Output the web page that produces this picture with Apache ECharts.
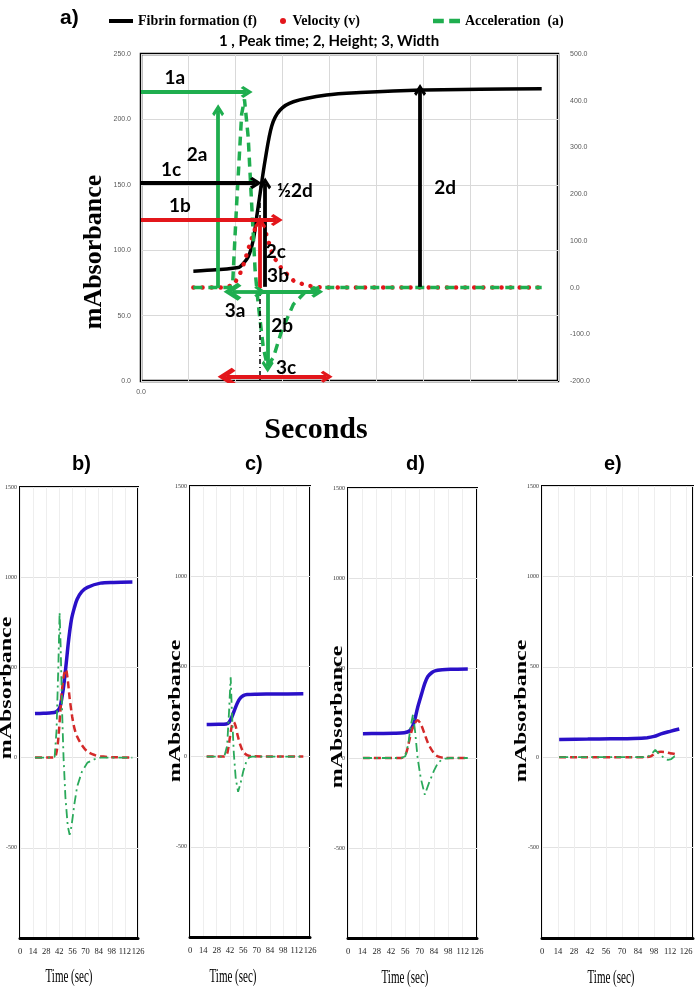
<!DOCTYPE html>
<html><head><meta charset="utf-8">
<script src="https://cdn.jsdelivr.net/npm/echarts@6/dist/echarts.min.js"></script>
<style>html,body{margin:0;padding:0;background:#fff}#c{width:696px;height:989px}</style>
</head><body><div id="c"></div>
<script>
// ---------- Panel a) data (x in seconds-like units, fibrin on left axis, velocity & acceleration on right axis)
const fibrinA = [[16.7,84],[24,85],[30.5,86.6],[31.6,87.4],[34.2,95],[35.8,107.8],[36.9,125.6],[38,143.5],[39.6,169],[41.7,195],[44.3,207],[48.6,213.5],[59.2,218.6],[69.9,220.5],[89.5,222.5],[108,223],[127.8,223.5]];
const velA = [[16.7,0],[26,0],[29.5,5],[31.6,30],[33,55],[34.8,95],[36.5,128],[38,145],[39.2,135],[40.1,110],[42.1,68],[44.9,40],[48.6,15],[52.9,4],[58,0],[127.8,0]];
const accA = [[16.7,0],[28,0],[29.2,4],[30.5,178],[32.1,371],[33,403],[34.2,321],[35.3,178],[36.4,36],[37.4,-36],[39,-128],[40.3,-168],[42.2,-150],[44.9,-92],[48.6,-36],[52.9,-6],[57,0],[127.8,0]];
const topLeftTicks = [0,50,100,150,200,250];
const topRightTicks = [-200,-100,0,100,200,300,400,500];

// annotation arrows in panel a) (data coordinates on left axis)
const greenArrows = [[[0,221],[33.7,221]],[[24.6,71],[24.6,207]],[[38.6,68.3],[56.2,68.3]],[[40.4,68.3],[40.4,11]]];
const blackArrows = [[[0,151.4],[36.6,151.4]],[[39.6,72],[39.6,151]],[[89,72],[89,222.5]]];
const redArrows = [[[0,123],[43.3,123]],[[38,71],[38,121]]];
const greenDoubleArrows = [[[29.2,68.3],[38,68.3]]];
const redDoubleArrows = [[[27.3,3.3],[59.2,3.3]]];
const peakGuide = [[[38,136],[38,-4]]];
const annotLabels = [
  {name:'1a', value:[10.8,231.6]},{name:'2a', value:[17.9,172.8]},{name:'1c', value:[9.6,161.7]},
  {name:'1b', value:[12.4,133.8]},{name:'½2d', value:[49.1,145]},{name:'2c', value:[43,98.6]},
  {name:'3b', value:[43.7,80]},{name:'3a', value:[30,53.5]},{name:'2b', value:[45,42]},
  {name:'3c', value:[46.3,10]},{name:'2d', value:[97,148]}
];

// ---------- Panels b) - e) data (Time (sec), mAbsorbance)
const bottomXTicks = [0,14,28,42,56,70,84,98,112,126];
const bottomYTicks = [-500,0,500,1000,1500];
const blueB = [[16,244],[25,246],[34,248],[38,252],[41,265],[43,285],[45,340],[46.6,395],[49,505],[52,655],[55,767],[58,830],[61,878],[66,920],[72,944],[86,967],[100,971],[120,973]];
const redB = [[16,0],[30,0],[37,2],[39,30],[41,110],[43,250],[45,380],[47,460],[49,489],[51,430],[53,330],[55.7,228],[58,165],[61,117],[66,70],[72,33],[80,14],[86,7],[100,2],[120,0]];
const greenB = [[16,0],[30,0],[37,5],[39,150],[41,520],[42.3,805],[43.5,600],[45,250],[46.5,0],[48.5,-220],[51,-380],[53,-428],[55,-380],[58,-260],[61,-161],[66,-80],[72,-28],[80,-8],[86,0],[120,0]];
const blueC = [[17.5,178],[30,179],[38,181],[41,190],[44,220],[47,262],[50,300],[53,325],[56,338],[60,344],[70,346],[90,347],[119,348]];
const redC = [[17.5,0],[34,0],[38,5],[40,40],[42,110],[44,170],[46,192],[48,168],[50,118],[53,62],[56,26],[60,8],[65,2],[119,0]];
const greenC = [[17.5,0],[36,0],[39,60],[41,250],[42.7,440],[44,250],[46,20],[48,-120],[50.5,-195],[53,-150],[56,-80],[59,-30],[62,-5],[65,0],[119,0]];
const blueD = [[14.6,135],[30,136],[45,137],[55,140],[60,150],[63,175],[65.4,216],[68,280],[72,358],[75,415],[78,453],[82,475],[85,484],[92,490],[100,493],[117,495]];
const redD = [[14.6,0],[50,0],[54,5],[57,30],[60,100],[62,147],[65,190],[68,210],[71,190],[75,131],[78,85],[82,42],[86,15],[90,5],[95,0],[117,0]];
const greenD = [[14.6,0],[52,0],[56,10],[59,80],[61,170],[63.5,242],[65.5,150],[68,0],[71,-110],[75,-204],[79,-140],[84,-70],[88,-26],[92,-8],[95,-3],[100,0],[117,0]];
const blueE = [[15,98],[40,100],[60,102],[80,104],[92,108],[98,115],[104,129],[112,143],[120,156]];
const redE = [[15,0],[90,0],[95,5],[100,25],[104,30],[108,28],[112,22],[116,18],[119,10]];
const greenE = [[15,0],[92,0],[96,20],[99,40],[102,20],[106,0],[110,-15],[113,-10],[116,5],[119,0]];

// ---------- build
const chart = echarts.init(document.getElementById('c'));
const chev = 'path://M0,11 L10,0 L20,11 L16.5,14 L10,7 L3.5,14 Z';
const dashIcon = 'path://M0,0 L10,0 L10,4 L0,4 Z M15,0 L25,0 L25,4 L15,4 Z';
const SERIF = 'Liberation Serif';
const GREEN = '#1fae4f', RED = '#e3161b';

const panels = [
  {blue:blueB, red:redB, green:greenB, grid:{left:20,top:487,width:118,height:451}, max:126},
  {blue:blueC, red:redC, green:greenC, grid:{left:190,top:486,width:120,height:451}, max:126},
  {blue:blueD, red:redD, green:greenD, grid:{left:348,top:488,width:129,height:450}, max:126},
  {blue:blueE, red:redE, green:greenE, grid:{left:542,top:486,width:151,height:452}, max:132}
];

const grids = [{left:141, top:54, width:417, height:327, show:true, borderColor:'#000', borderWidth:2.5, backgroundColor:'#fff'}];
const xAxes = [{gridIndex:0, type:'value', min:0, max:133, interval:15,
  axisLine:{show:false}, axisTick:{show:false},
  splitLine:{show:true, lineStyle:{color:'#d9d9d9', width:1}},
  axisLabel:{formatter:v=>v===0?'0.0':'', fontSize:7, color:'#595959', margin:8, fontFamily:'Liberation Sans'}}];
const yAxes = [
  {gridIndex:0, type:'value', min:0, max:250, interval:50, position:'left',
   axisLine:{show:false}, axisTick:{show:false}, splitLine:{show:true, lineStyle:{color:'#d9d9d9'}},
   axisLabel:{formatter:v=>topLeftTicks.includes(v)?v.toFixed(1):'', fontSize:7, color:'#595959', margin:10, fontFamily:'Liberation Sans'}},
  {gridIndex:0, type:'value', min:-200, max:500, interval:100, position:'right',
   axisLine:{show:false}, axisTick:{show:false}, splitLine:{show:false},
   axisLabel:{formatter:v=>topRightTicks.includes(v)?v.toFixed(1):'', fontSize:7, color:'#595959', margin:12, fontFamily:'Liberation Sans'}}
];

const series = [
  {name:'Fibrin formation (f)', type:'line', xAxisIndex:0, yAxisIndex:0, data:fibrinA, symbol:'none', smooth:0.3,
   lineStyle:{color:'#000', width:3.5}, itemStyle:{color:'#000'}, z:3},
  {name:'Velocity (v)', type:'line', xAxisIndex:0, yAxisIndex:1, data:velA, symbol:'none',
   lineStyle:{color:RED, width:4.5, type:[0.1,9], cap:'round'}, itemStyle:{color:RED}, z:3},
  {name:'Acceleration  (a)', type:'line', xAxisIndex:0, yAxisIndex:1, data:accA, symbol:'none',
   lineStyle:{color:GREEN, width:3.5, type:[9,6]}, itemStyle:{color:GREEN}, z:4}
];
function arrowSeries(list, color, symbols, dashed){
  return {type:'lines', coordinateSystem:'cartesian2d', xAxisIndex:0, yAxisIndex:0, silent:true, z:5,
    symbol:symbols, symbolSize:[18,12],
    lineStyle:{color:color, width:dashed?1.5:3.8, opacity:1, type:dashed?[5,3,1,3]:'solid'},
    data:list.map(c=>({coords:c}))};
}
series.push(arrowSeries(peakGuide, '#000', ['none','none'], true));
series.push(arrowSeries(greenArrows, GREEN, ['none',chev]));
series.push(arrowSeries(blackArrows, '#000', ['none',chev]));
series.push(arrowSeries(redArrows, RED, ['none',chev]));
series.push(arrowSeries(greenDoubleArrows, GREEN, [chev,chev]));
series.push(arrowSeries(redDoubleArrows, RED, [chev,chev]));
series.push({type:'scatter', xAxisIndex:0, yAxisIndex:0, symbolSize:1, silent:true, z:6,
  itemStyle:{color:'rgba(0,0,0,0)', opacity:1}, data:annotLabels,
  label:{show:true, position:'inside', formatter:'{b}', fontFamily:'Lato', fontWeight:'bold', fontSize:19, color:'#000', opacity:1, textBorderWidth:0}});

const graphics = [
  {type:'text', x:94, y:252, rotation:Math.PI/2, style:{text:'mAbsorbance', fontFamily:SERIF, fontWeight:'bold', fontSize:26, fill:'#000', align:'center', verticalAlign:'middle'}},
  {type:'text', x:316, y:430, style:{text:'Seconds', fontFamily:SERIF, fontWeight:'bold', fontSize:30, fill:'#000', align:'center', verticalAlign:'middle'}}
];
const yTitlePos = [[7,688],[176,711],[338,717],[522,711]];
const xTitlePos = [[69,977],[233,977],[405,978],[611,978]];
const panelTitles = [['b)',67],['c)',240],['d)',401],['e)',599]];

panels.forEach((p,i)=>{
  const gi = i+1;
  grids.push(Object.assign({show:true, borderColor:'#000', borderWidth:2, backgroundColor:'#fff'}, p.grid));
  xAxes.push({gridIndex:gi, type:'value', min:0, max:p.max, interval:14,
    axisLine:{show:true, onZero:false, lineStyle:{color:'#000', width:3}}, axisTick:{show:false},
    splitLine:{show:true, lineStyle:{color:'#eeeeee', width:1}},
    axisLabel:{formatter:v=>bottomXTicks.includes(v)?String(v):'', fontSize:8.5, fontFamily:SERIF, color:'#222', margin:9}});
  yAxes.push({gridIndex:gi, type:'value', min:-1000, max:1500, interval:500,
    axisLine:{show:false}, axisTick:{show:false},
    splitLine:{show:true, lineStyle:{color:'#e2e2e2', width:1}},
    axisLabel:{formatter:v=>bottomYTicks.includes(v)?String(v):'', fontSize:6, fontFamily:SERIF, color:'#333', margin:3}});
  const xi = gi, yi = gi+1;
  series.push({type:'line', xAxisIndex:xi, yAxisIndex:yi, data:p.blue, symbol:'none', smooth:0.3,
    lineStyle:{color:'#2a10c8', width:3.5}, z:3});
  series.push({type:'line', xAxisIndex:xi, yAxisIndex:yi, data:p.red, symbol:'none', smooth:0.3,
    lineStyle:{color:'#d42a2a', width:2.5, type:[7,4]}, z:3});
  series.push({type:'line', xAxisIndex:xi, yAxisIndex:yi, data:p.green, symbol:'none',
    lineStyle:{color:'#2aa95a', width:1.8, type:[9,4,2,4]}, z:4});
  graphics.push({type:'text', x:yTitlePos[i][0], y:yTitlePos[i][1], rotation:Math.PI/2, scaleX:1.5,
    style:{text:'mAbsorbance', fontFamily:SERIF, fontWeight:'bold', fontSize:16, fill:'#000', align:'center', verticalAlign:'middle'}});
  graphics.push({type:'text', x:xTitlePos[i][0], y:xTitlePos[i][1], scaleX:0.58,
    style:{text:'Time (sec)', fontFamily:SERIF, fontSize:19, fill:'#000', align:'center', verticalAlign:'middle'}});
});

const titles = [
  {text:'a)', left:55, top:3, textStyle:{fontFamily:'Liberation Sans', fontWeight:'bold', fontSize:21, color:'#000'}},
  {text:'1 , Peak time; 2, Height; 3, Width', left:214, top:29, textStyle:{fontFamily:'Lato', fontWeight:'bold', fontSize:15, color:'#000'}}
];
panelTitles.forEach(t=>titles.push({text:t[0], left:t[1], top:449, textStyle:{fontFamily:'Liberation Sans', fontWeight:'bold', fontSize:20, color:'#000'}}));

const legTxt = {fontFamily:SERIF, fontWeight:'bold', fontSize:14, color:'#000'};
chart.setOption({
  animation:false,
  backgroundColor:'#fff',
  title:titles,
  legend:[
    {data:[{name:'Fibrin formation (f)', icon:'rect'}], left:104, top:9, itemWidth:24, itemHeight:4, itemGap:0, selectedMode:false, textStyle:legTxt},
    {data:[{name:'Velocity (v)', icon:'circle'}], left:275, top:9, itemWidth:9, itemHeight:6, selectedMode:false, textStyle:legTxt},
    {data:[{name:'Acceleration  (a)', icon:dashIcon}], left:428, top:9, itemWidth:27, itemHeight:5, selectedMode:false, textStyle:legTxt}
  ],
  grid:grids, xAxis:xAxes, yAxis:yAxes, series:series, graphic:graphics
});
</script></body></html>
